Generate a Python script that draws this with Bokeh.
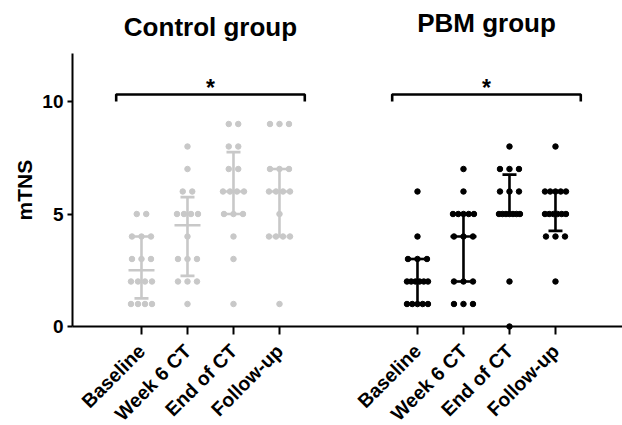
import math
import numpy as np
from bokeh.plotting import figure
from bokeh.models import FixedTicker
from bokeh.core.properties import value
from bokeh.embed import file_html
from bokeh.resources import INLINE

# ---------------- data ----------------
timepoints = ["Baseline", "Week 6 CT", "End of CT", "Follow-up"]
group_names = ["Control group", "PBM group"]
group_positions = [[1, 2, 3, 4], [7, 8, 9, 10]]
y_ticks = [0, 5, 10]
y_label = "mTNS"
significance = ["*", "*"]

control_baseline = [5, 5, 4, 4, 4, 3, 3, 3, 2, 2, 2, 2, 1, 1, 1, 1]
control_week6 = [8, 7, 6, 6, 5, 5, 5, 5, 4, 3, 3, 3, 2, 2, 2, 1]
control_end = [9, 9, 8, 8, 7, 7, 6, 6, 6, 6, 5, 5, 5, 4, 3, 1]
control_follow = [9, 9, 9, 7, 7, 7, 6, 6, 6, 6, 5, 4, 4, 4, 4, 1]

pbm_baseline = [6, 4, 3, 3, 3, 2, 2, 2, 2, 2, 2, 1, 1, 1, 1, 1]
pbm_week6 = [7, 6, 5, 5, 5, 5, 5, 4, 4, 4, 2, 2, 2, 1, 1, 1]
pbm_end = [8, 7, 7, 7, 6, 6, 6, 5, 5, 5, 5, 5, 5, 5, 2, 0]
pbm_follow = [8, 6, 6, 6, 6, 6, 5, 5, 5, 5, 5, 5, 4, 4, 4, 2]

groups = [
    [control_baseline, control_week6, control_end, control_follow],
    [pbm_baseline, pbm_week6, pbm_end, pbm_follow],
]
colors = ["#c8c8c8", "#000000"]

# ---------------- figure ----------------
PX_PER_X = 46.0
X_MIN, X_MAX = -0.5, 11.46      # extent of the drawn x axis
Y_MIN, Y_MAX = 0, 12.13         # extent of the drawn y axis
FONT = value("Liberation Sans")

p = figure(width=622, height=425, x_range=(-2.065, 11.457), y_range=(-4.4, 14.489),
           output_backend="svg", toolbar_location=None,
           min_border_left=0, min_border_right=0, min_border_top=0,
           min_border_bottom=0)
p.outline_line_color = None
p.xgrid.grid_line_color = None
p.ygrid.grid_line_color = None
p.background_fill_color = "white"
p.border_fill_color = "white"

all_x = [x for g in group_positions for x in g]
p.xaxis.fixed_location = Y_MIN
p.xaxis.bounds = (X_MIN, X_MAX)
p.xaxis.ticker = FixedTicker(ticks=all_x)
p.xaxis.major_label_overrides = {x: timepoints[i % 4] for i, x in enumerate(all_x)}
p.xaxis.major_label_orientation = math.pi / 4
p.xaxis.major_tick_out = 8
p.xaxis.major_tick_in = 0
p.xaxis.major_label_standoff = 13
p.xaxis.major_label_text_font_size = "19.5px"

p.yaxis.fixed_location = X_MIN
p.yaxis.bounds = (Y_MIN, Y_MAX)
p.yaxis.ticker = FixedTicker(ticks=y_ticks)
p.yaxis.major_tick_out = 5
p.yaxis.major_tick_in = 0
p.yaxis.major_label_standoff = 4
p.yaxis.major_label_text_font_size = "19px"

for ax in (p.xaxis, p.yaxis):
    ax.axis_line_width = 2
    ax.axis_line_color = "black"
    ax.major_tick_line_width = 2
    ax.major_tick_line_color = "black"
    ax.minor_tick_line_color = None
    ax.major_label_text_font = "Liberation Sans"
    ax.major_label_text_font_style = "bold"
    ax.major_label_text_color = "black"

# y-axis title, centred on the drawn y axis
p.text(x=[X_MIN - 1.04], y=[(Y_MIN + Y_MAX) / 2], text=[y_label], angle=math.pi / 2,
       text_font=FONT, text_font_style="bold", text_font_size="21px",
       text_align="center", text_baseline="middle", text_color="black")

MED_HALF = 13 / PX_PER_X
CAP_HALF = 7 / PX_PER_X

for gi, cols in enumerate(groups):
    col = colors[gi]
    xs_pts, ys_pts = [], []
    vx0, vy0, vx1, vy1 = [], [], [], []
    hx0, hx1, hy = [], [], []
    for ci, vals in enumerate(cols):
        xc = group_positions[gi][ci]
        arr = np.array(vals, dtype=float)
        for v in sorted(set(vals)):
            k = vals.count(v)
            sp = 9.5 if k <= 1 else min(9.5, 21.0 / (k - 1))
            for i in range(k):
                xs_pts.append(xc + (i - (k - 1) / 2) * sp / PX_PER_X)
                ys_pts.append(v)
        q1, med, q3 = np.percentile(arr, [25, 50, 75], method="weibull")
        vx0.append(xc); vx1.append(xc); vy0.append(q1); vy1.append(q3)
        hx0 += [xc - MED_HALF, xc - CAP_HALF, xc - CAP_HALF]
        hx1 += [xc + MED_HALF, xc + CAP_HALF, xc + CAP_HALF]
        hy += [med, q1, q3]
    p.scatter(xs_pts, ys_pts, size=5.5, color=col, line_color=col)
    p.segment(vx0, vy0, vx1, vy1, line_color=col, line_width=2.6)
    p.segment(hx0, hy, hx1, hy, line_color=col, line_width=2.6)

# brackets and significance
bx, by = [], []
centers = []
for g in group_positions:
    l = g[0] - 0.55
    r = g[-1] + 0.55
    bx.append([l, l, r, r])
    by.append([10.0, 10.31, 10.31, 10.0])
    centers.append(sum(g) / len(g))
p.multi_line(bx, by, line_color="black", line_width=2.6)
p.text(x=centers, y=[10.62, 10.62], text=significance, text_font=FONT,
       text_font_style="bold", text_font_size="23px", text_align="center",
       text_baseline="alphabetic", text_color="black")

# group titles
p.text(x=centers, y=[13.29, 13.47], text=group_names, text_font=FONT,
       text_font_style="bold", text_font_size="26px", text_align="center",
       text_baseline="alphabetic", text_color="black")

open("out.html", "w").write(file_html(p, INLINE))
